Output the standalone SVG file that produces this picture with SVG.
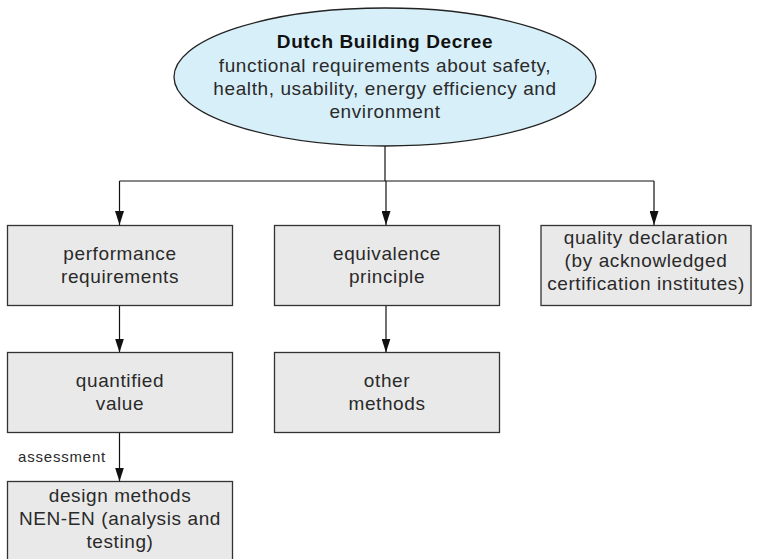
<svg xmlns="http://www.w3.org/2000/svg" width="759" height="559" viewBox="0 0 759 559">
<defs>
<marker id="arr" viewBox="0 0 14 9" refX="14" refY="4.5" markerWidth="14" markerHeight="9" orient="auto" markerUnits="userSpaceOnUse">
<path d="M0,0 L14,4.5 L0,9 Z" fill="#111"/>
</marker>
<style>
.box{fill:#e9e9e9;stroke:#333;stroke-width:1.3}
.ell{fill:#d7eff9;stroke:#222;stroke-width:1.3}
.t{font-family:"Liberation Sans",Arial,sans-serif;font-size:19px;letter-spacing:0.6px;fill:#2a2a2a;text-anchor:middle}
.b{font-weight:bold;fill:#111}
.s{font-family:"Liberation Sans",Arial,sans-serif;font-size:15px;letter-spacing:0.8px;fill:#2a2a2a}
.c{fill:none;stroke:#111;stroke-width:1.2}
</style>
</defs>
<rect width="759" height="559" fill="#fff"/>
<g id="connectors">
<path class="c" d="M385,146 V181"/>
<path class="c" d="M119.5,181 H654"/>
<path class="c" d="M119.5,181 V225" marker-end="url(#arr)"/>
<path class="c" d="M386,181 V225" marker-end="url(#arr)"/>
<path class="c" d="M654,181 V225" marker-end="url(#arr)"/>
<path class="c" d="M119.5,306 V352.5" marker-end="url(#arr)"/>
<path class="c" d="M386,306 V352.5" marker-end="url(#arr)"/>
<path class="c" d="M119.5,433 V481.5" marker-end="url(#arr)"/>
<text class="s" x="18" y="462">assessment</text>
</g>
<g id="decree">
<ellipse class="ell" cx="385" cy="77" rx="211" ry="69"/>
<text class="t b" x="385" y="48">Dutch Building Decree</text>
<text class="t" x="385" y="72">functional requirements about safety,</text>
<text class="t" x="385" y="95">health, usability, energy efficiency and</text>
<text class="t" x="385" y="118">environment</text>
</g>
<g id="performance">
<rect class="box" x="7.5" y="225.5" width="225" height="80"/>
<text class="t" x="120" y="260">performance</text>
<text class="t" x="120" y="283">requirements</text>
</g>
<g id="equivalence">
<rect class="box" x="274.5" y="225.5" width="225" height="80"/>
<text class="t" x="387" y="260">equivalence</text>
<text class="t" x="387" y="283">principle</text>
</g>
<g id="quality">
<rect class="box" x="541" y="225.5" width="210" height="80"/>
<text class="t" x="646" y="244">quality declaration</text>
<text class="t" x="646" y="267">(by acknowledged</text>
<text class="t" x="646" y="290">certification institutes)</text>
</g>
<g id="quantified">
<rect class="box" x="7.5" y="352.5" width="225" height="80"/>
<text class="t" x="120" y="387">quantified</text>
<text class="t" x="120" y="410">value</text>
</g>
<g id="other">
<rect class="box" x="274.5" y="352.5" width="225" height="80"/>
<text class="t" x="387" y="387">other</text>
<text class="t" x="387" y="410">methods</text>
</g>
<g id="design">
<rect class="box" x="7.5" y="481.5" width="225" height="90"/>
<text class="t" x="120" y="502">design methods</text>
<text class="t" x="120" y="525">NEN-EN (analysis and</text>
<text class="t" x="120" y="548">testing)</text>
</g>
</svg>
